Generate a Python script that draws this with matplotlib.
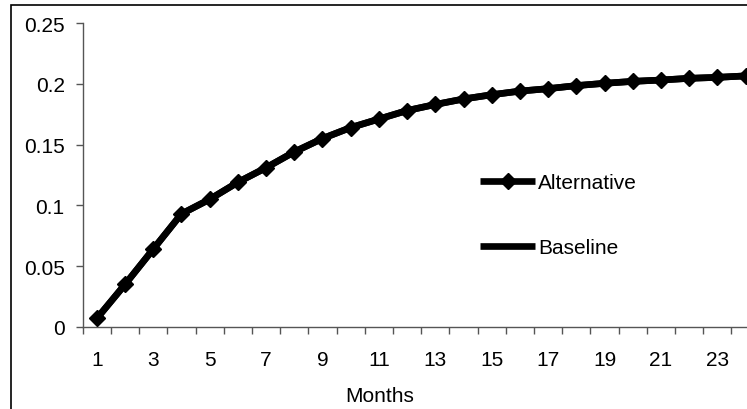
import matplotlib
matplotlib.use("Agg")
import matplotlib.pyplot as plt
from matplotlib.patches import Rectangle
from matplotlib.ticker import FixedLocator, FuncFormatter

plt.rcParams['font.family'] = ['Liberation Sans', 'DejaVu Sans']

months = list(range(1, 25))
alternative = [0.007, 0.035, 0.064, 0.093, 0.105, 0.119, 0.131, 0.144, 0.155, 0.164,
               0.171, 0.178, 0.183, 0.1875, 0.191, 0.194, 0.196, 0.1985, 0.2004, 0.202,
               0.2031, 0.2045, 0.2053, 0.2065]
baseline = [0.007, 0.035, 0.064, 0.093, 0.105, 0.119, 0.131, 0.144, 0.155, 0.164,
            0.171, 0.178, 0.183, 0.1875, 0.191, 0.194, 0.196, 0.1985, 0.2004, 0.202,
            0.2031, 0.2045, 0.2053, 0.2065]
y_ticks = [0, 0.05, 0.1, 0.15, 0.2, 0.25]
x_tick_labels = [1, 3, 5, 7, 9, 11, 13, 15, 17, 19, 21, 23]

W, H = 747, 410
FS = 15
fig = plt.figure(figsize=(W / 100, H / 100), dpi=100)
ax = fig.add_axes([82.7 / W, (H - 328) / H, 677 / W, (328 - 24) / H])

ax.plot(months, baseline, color='black', lw=4.8, solid_capstyle='butt',
        solid_joinstyle='round', label='Baseline', zorder=2)
ax.plot(months, alternative, color='black', lw=4.8, marker='D', ms=8,
        solid_capstyle='butt', solid_joinstyle='round', label='Alternative', zorder=3)

ax.set_xlim(0.5, 24.5)
ax.set_ylim(0, 0.25)

for s in ['top', 'right']:
    ax.spines[s].set_visible(False)
for s in ['left', 'bottom']:
    ax.spines[s].set_color('#555555')
    ax.spines[s].set_linewidth(1.0)

ax.set_yticks(y_ticks)
ax.yaxis.set_major_formatter(FuncFormatter(lambda v, p: '%g' % v))
ax.tick_params(axis='y', direction='out', length=5, width=1, color='#555555',
               labelsize=FS, pad=8)

ax.xaxis.set_major_locator(FixedLocator(x_tick_labels))
ax.set_xticklabels([str(v) for v in x_tick_labels])
ax.xaxis.set_minor_locator(FixedLocator([i + 0.5 for i in range(0, 25)]))
ax.tick_params(axis='x', which='major', length=0, labelsize=FS, pad=16.5)
ax.tick_params(axis='x', which='minor', direction='out', length=5, width=1, color='#555555')
ax.set_xlabel('Months', fontsize=FS)
ax.xaxis.label.set_va('center')
ax.xaxis.set_label_coords((380 - 82.7) / 677, (328 - 397) / 304)

handles, labels = ax.get_legend_handles_labels()
order = [1, 0]
ax.legend([handles[i] for i in order], [labels[i] for i in order],
          loc='center left', bbox_to_anchor=(480 / W, (H - 216) / H),
          bbox_transform=fig.transFigure, frameon=False, fontsize=FS,
          handlelength=2.65, handletextpad=0.15, labelspacing=2.2,
          borderpad=0, borderaxespad=0)

fig.patches.append(Rectangle((10.5 / W, -0.2), 1.2, 1.2 - 5.5 / H, transform=fig.transFigure,
                             fill=False, edgecolor='black', lw=1.2, clip_on=False))

fig.savefig('out.png', dpi=100)
